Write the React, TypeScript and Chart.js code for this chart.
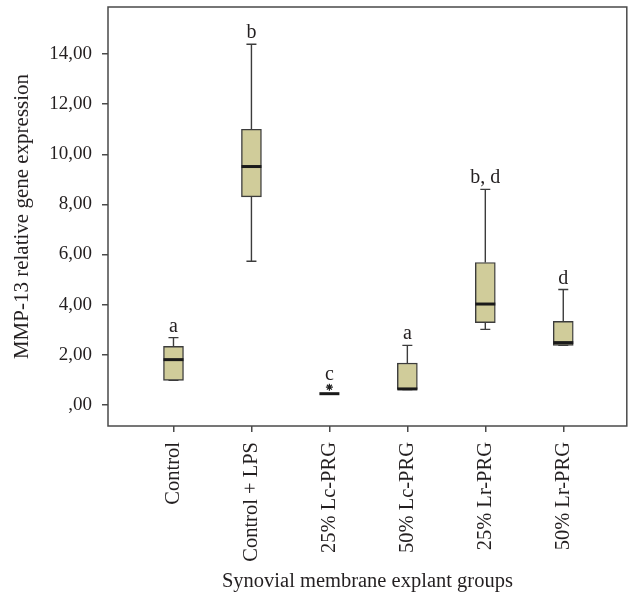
import React, { useEffect, useRef } from "react";
import { Chart, registerables } from "chart.js";

Chart.register(...registerables);

// ---- data ----
const categories = ["Control", "Control + LPS", "25% Lc-PRG", "50% Lc-PRG", "25% Lr-PRG", "50% Lr-PRG"];
const whiskerLow = [0.97, 5.73, 0.44, 0.61, 3.01, 2.37];
const q1 = [0.97, 8.3, 0.44, 0.61, 3.28, 2.37];
const median = [1.8, 9.51, 0.44, 0.63, 4.02, 2.48];
const q3 = [2.33, 11.0, 0.44, 1.66, 5.68, 3.33];
const whiskerHigh = [2.68, 14.39, 0.44, 2.37, 8.6, 4.6];
const outlierGroup = [2];
const outlierValue = [0.7];
const letters = ["a", "b", "c", "a", "b, d", "d"];
const yTickValues = [0, 2, 4, 6, 8, 10, 12, 14];
const yTickLabels = [",00", "2,00", "4,00", "6,00", "8,00", "10,00", "12,00", "14,00"];

const FONT = "'Liberation Serif', 'Times New Roman', serif";
const TEXT = "#231f20";
const LINE = "#3c3c3c";
const FILL = "#d0cc9a";
const BOX_W = 20;
const CAP_W = 10;

const boxPlugin = {
  id: "boxExtras",
  beforeDatasetsDraw(chart: any) {
    const { ctx, scales } = chart;
    const x = scales.x;
    const y = scales.y;
    ctx.save();
    ctx.strokeStyle = LINE;
    ctx.lineWidth = 1.4;
    categories.forEach((_, i) => {
      const px = x.getPixelForValue(i);
      const hi = y.getPixelForValue(whiskerHigh[i]);
      const lo = y.getPixelForValue(whiskerLow[i]);
      const top = y.getPixelForValue(q3[i]);
      const bot = y.getPixelForValue(q1[i]);
      ctx.beginPath();
      ctx.moveTo(px, top);
      ctx.lineTo(px, hi);
      ctx.moveTo(px, bot);
      ctx.lineTo(px, lo);
      ctx.moveTo(px - CAP_W / 2, hi);
      ctx.lineTo(px + CAP_W / 2, hi);
      ctx.moveTo(px - CAP_W / 2, lo);
      ctx.lineTo(px + CAP_W / 2, lo);
      ctx.stroke();
    });
    ctx.restore();
  },
  afterDatasetsDraw(chart: any) {
    const { ctx, scales } = chart;
    const x = scales.x;
    const y = scales.y;
    ctx.save();
    ctx.strokeStyle = "#1a1a1a";
    ctx.lineWidth = 3;
    categories.forEach((_, i) => {
      const px = x.getPixelForValue(i);
      const py = y.getPixelForValue(median[i]);
      ctx.beginPath();
      ctx.moveTo(px - BOX_W / 2, py);
      ctx.lineTo(px + BOX_W / 2, py);
      ctx.stroke();
    });
    ctx.fillStyle = TEXT;
    ctx.font = `20px ${FONT}`;
    ctx.textAlign = "center";
    ctx.textBaseline = "alphabetic";
    categories.forEach((_, i) => {
      const oi = outlierGroup.indexOf(i);
      const anchor = oi >= 0 ? Math.max(outlierValue[oi], whiskerHigh[i]) : whiskerHigh[i];
      const px = x.getPixelForValue(i);
      const py = y.getPixelForValue(anchor) - (oi >= 0 ? 7 : 6);
      ctx.fillText(letters[i], px, py);
    });
    ctx.restore();
  },
  afterDraw(chart: any) {
    const { ctx, chartArea } = chart;
    ctx.save();
    ctx.strokeStyle = "#4a4a4a";
    ctx.lineWidth = 1.5;
    ctx.strokeRect(chartArea.left, chartArea.top, chartArea.right - chartArea.left, chartArea.bottom - chartArea.top);
    ctx.restore();
  },
};

export default function App() {
  const ref = useRef<HTMLCanvasElement | null>(null);

  useEffect(() => {
    if (!ref.current) return;
    Chart.defaults.font.family = FONT;
    Chart.defaults.color = TEXT;
    const chart = new Chart(ref.current, {
      type: "bar",
      data: {
        datasets: [
          {
            type: "bar",
            data: categories.map((_, i) => ({ x: i, y: [q1[i], q3[i]] })) as any,
            backgroundColor: FILL,
            borderColor: LINE,
            borderWidth: 1.4,
            borderSkipped: false,
            barThickness: BOX_W,
            grouped: false,
          } as any,
          {
            type: "scatter",
            data: outlierGroup.map((g, k) => ({ x: g, y: outlierValue[k] })),
            pointStyle: "star",
            radius: 3.5,
            borderColor: "#222",
            backgroundColor: "#222",
            borderWidth: 1.2,
          } as any,
        ],
      },
      options: {
        animation: false,
        responsive: true,
        maintainAspectRatio: false,
        layout: { padding: { top: 7, right: 3, left: 0, bottom: 0 } },
        plugins: { legend: { display: false }, tooltip: { enabled: false } },
        scales: {
          x: {
            type: "linear",
            min: -0.84,
            max: 5.815,
            offset: false,
            afterBuildTicks: (scale: any) => {
              scale.ticks = categories.map((_, i) => ({ value: i }));
            },
            afterFit: (scale: any) => {
              scale.height = 171;
              scale.paddingLeft = 0;
              scale.paddingRight = 0;
            },
            ticks: {
              autoSkip: false,
              maxRotation: 90,
              minRotation: 90,
              padding: 10,
              color: TEXT,
              font: { size: 20.5, family: FONT },
              callback: (v: any) => categories[v as number] ?? "",
            },
            grid: {
              offset: false,
              drawOnChartArea: false,
              drawTicks: true,
              tickLength: 6,
              color: "#4a4a4a",
              lineWidth: 1.5,
            },
            border: { display: false },
            title: {
              display: true,
              text: "Synovial membrane explant groups",
              color: TEXT,
              font: { size: 20.5, family: FONT },
              padding: { top: 0, bottom: 3 },
            },
          },
          y: {
            type: "linear",
            min: -0.85,
            max: 15.88,
            afterBuildTicks: (scale: any) => {
              scale.ticks = yTickValues.map((v) => ({ value: v }));
            },
            afterFit: (scale: any) => {
              scale.width = 108;
              scale.paddingTop = 0;
              scale.paddingBottom = 0;
            },
            ticks: {
              padding: 10,
              color: TEXT,
              font: { size: 19, family: FONT },
              callback: (v: any) => {
                const k = yTickValues.indexOf(v as number);
                return k >= 0 ? yTickLabels[k] : "";
              },
            },
            grid: { drawOnChartArea: false, drawTicks: true, tickLength: 6, color: "#4a4a4a", lineWidth: 1.5 },
            border: { display: false },
            title: {
              display: true,
              text: "MMP-13 relative gene expression",
              color: TEXT,
              font: { size: 21, family: FONT },
              padding: { top: 10, bottom: 0 },
            },
          },
        },
      } as any,
      plugins: [boxPlugin],
    });
    return () => chart.destroy();
  }, []);

  return (
    <div style={{ position: "absolute", left: 0, top: 0, width: 632, height: 597, background: "#fff" }}>
      <canvas ref={ref} />
    </div>
  );
}
